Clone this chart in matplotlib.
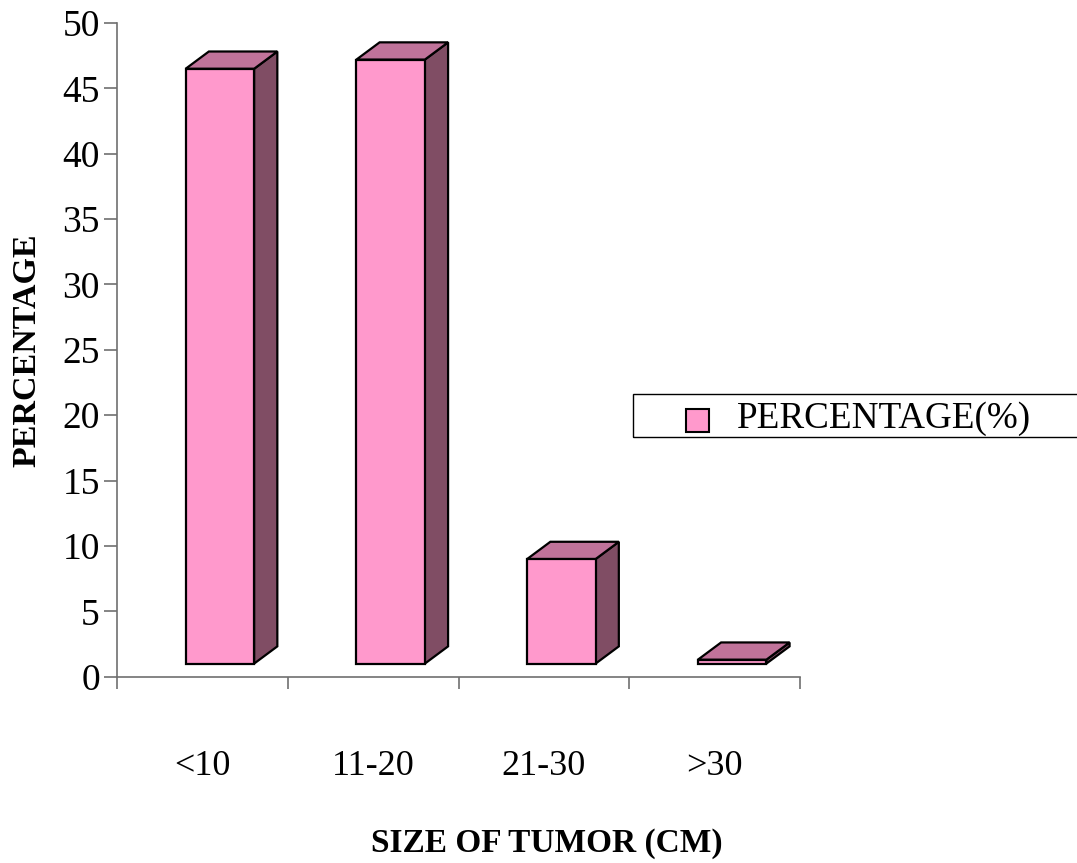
import matplotlib
matplotlib.use('Agg')
import matplotlib.pyplot as plt
from matplotlib.patches import Polygon, Rectangle

plt.rcParams['font.family'] = ['Liberation Serif', 'DejaVu Serif']

# 数据
categories = ['<10', '11-20', '21-30', '>30']
percentage = [45.5, 46.2, 8.0, 0.3]
yticks = [0, 5, 10, 15, 20, 25, 30, 35, 40, 45, 50]

W, H = 1077, 863
fig = plt.figure(figsize=(W / 100, H / 100), dpi=100)

# 坐标轴位置 (像素换算)
x_left, x_right = 117, 800
y_top, y_bottom = 23, 676.7
ax = fig.add_axes([x_left / W, 1 - y_bottom / H, (x_right - x_left) / W, (y_bottom - y_top) / H])
ax.set_xlim(0, 4)
ax.set_ylim(0, 50)

# 伪3D柱子
front_c = '#FF99CC'
top_c = '#C0739A'
side_c = '#804D64'
base = 1.0
off = 0.402
w = 0.401
dx = 0.136
dy = 1.32
for i, v in enumerate(percentage):
    x0 = i + off
    top = base + v
    side = Polygon([(x0 + w, base), (x0 + w + dx, base + dy), (x0 + w + dx, top + dy), (x0 + w, top)],
                   closed=True, facecolor=side_c, edgecolor='black', lw=1.6, clip_on=False, zorder=3)
    topf = Polygon([(x0, top), (x0 + w, top), (x0 + w + dx, top + dy), (x0 + dx, top + dy)],
                   closed=True, facecolor=top_c, edgecolor='black', lw=1.6, clip_on=False, zorder=3)
    front = Polygon([(x0, base), (x0 + w, base), (x0 + w, top), (x0, top)],
                    closed=True, facecolor=front_c, edgecolor='black', lw=1.6, clip_on=False, zorder=4)
    ax.add_patch(side)
    ax.add_patch(topf)
    ax.add_patch(front)

# 坐标轴样式
for s in ['top', 'right']:
    ax.spines[s].set_visible(False)
for s in ['left', 'bottom']:
    ax.spines[s].set_color('#707070')
    ax.spines[s].set_linewidth(1.2)

ax.set_yticks(yticks)
ax.set_yticklabels([str(t) for t in yticks], fontsize=27)
ax.tick_params(axis='y', length=9.4, width=1.2, color='#707070', pad=3)
ax.set_xticks(range(len(categories) + 1))
ax.set_xticklabels([])
ax.tick_params(axis='x', length=8.6, width=1.2, color='#707070')

for i, c in enumerate(categories):
    ax.text(i + 0.5, -0.138, c, transform=ax.get_xaxis_transform(),
            ha='center', va='center', fontsize=26)

# 轴标题
fig.text(547 / W, 1 - 843 / H, 'SIZE OF TUMOR (CM)', ha='center', va='center',
         fontsize=24, fontweight='bold')
fig.text(27 / W, 1 - 350 / H, 'PERCENTAGE', ha='center', va='center',
         fontsize=24.5, fontweight='bold', rotation=90)

# 图例
fig.add_artist(Rectangle((633 / W, 1 - 437 / H), (1090 - 633) / W, 43 / H,
                         transform=fig.transFigure, fill=False, edgecolor='black', lw=1))
fig.add_artist(Rectangle((686 / W, 1 - 432 / H), 23 / W, 23 / H,
                         transform=fig.transFigure, facecolor=front_c, edgecolor='black', lw=1.5))
fig.text(737 / W, 1 - 419 / H, 'PERCENTAGE(%)', ha='left', va='center', fontsize=26.7)

plt.savefig('out.png', dpi=100)
